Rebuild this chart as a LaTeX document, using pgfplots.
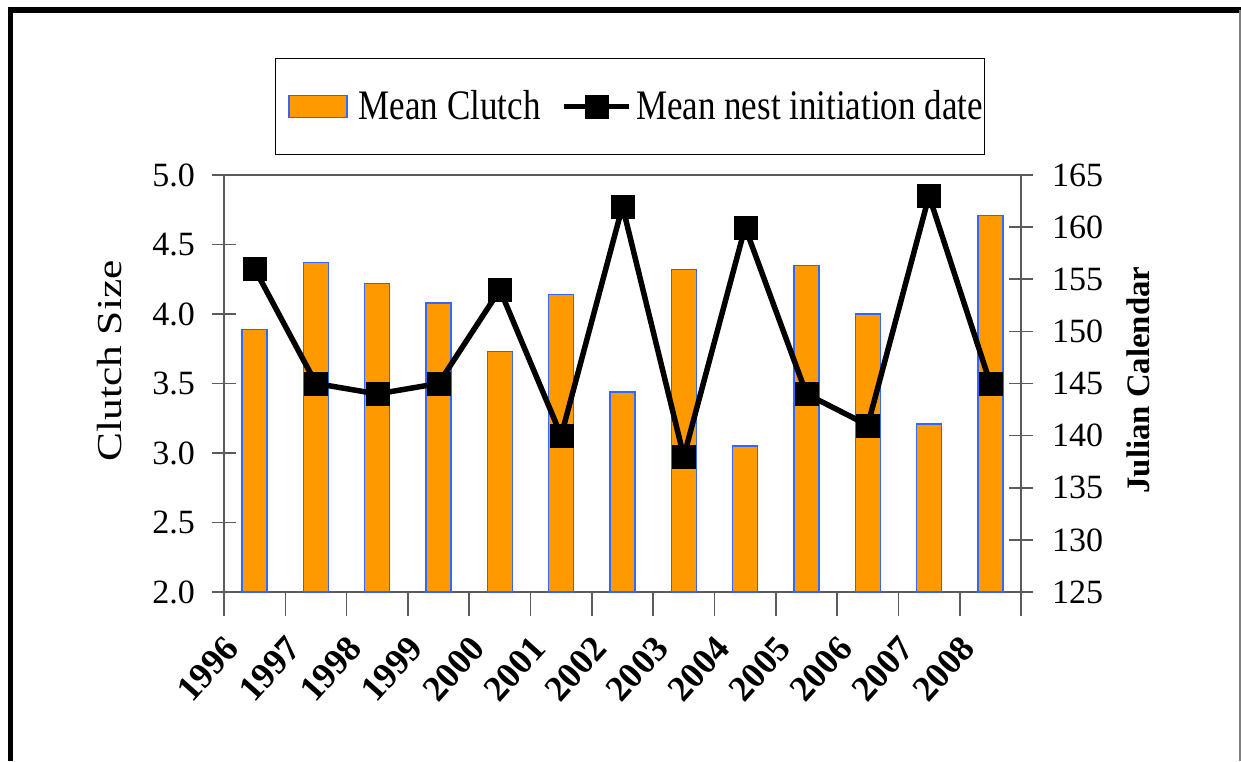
\documentclass[border=0pt]{standalone}
\usepackage{pgfplots}
\pgfplotsset{compat=1.18}
\usepackage{pgfplotstable}
\usepackage{fontspec}
\setmainfont{Liberation Serif}
\usepackage{graphicx}
\definecolor{barfill}{HTML}{FF9900}
\definecolor{baredge}{HTML}{3366FF}
\definecolor{axgray}{HTML}{5A5A5A}

\pgfplotsset{
  barleg/.style={legend image code/.code={\path (0pt,0pt); \draw[##1] (6pt,-5.5pt) rectangle (35pt,5.5pt);}},
  lineleg/.style={legend image code/.code={\draw[##1, mark repeat=2, mark phase=2] plot coordinates {(0pt,0pt) (16.25pt,0pt) (32.5pt,0pt)};}},
}

\pgfplotstableread{
x clutch date
0 3.89 156
1 4.37 145
2 4.22 144
3 4.08 145
4 3.73 154
5 4.14 140
6 3.44 162
7 4.32 138
8 3.05 160
9 4.35 144
10 4.00 141
11 3.21 163
12 4.71 145
}\datatable

\begin{document}
\begin{tikzpicture}
\useasboundingbox (0,0) rectangle (620.5pt,380.5pt);
% outer frame (open at bottom)
\draw[line width=2.6pt] (5.25pt,0pt) -- (5.25pt,375.5pt) -- (620.5pt,375.5pt);
\draw[gray, line width=0.8pt] (620.1pt,375.5pt) -- (620.1pt,0pt);

\begin{axis}[
  at={(112pt,84.5pt)}, anchor=south west,
  scale only axis, width=398.5pt, height=208.5pt,
  xmin=-0.5, xmax=12.5, ymin=2, ymax=5,
  axis line style={draw=axgray, line width=0.9pt},
  xtick={-0.5,0.5,...,12.5}, xticklabel=\empty,
  xtick pos=bottom, ytick pos=left,
  ytick={2,2.5,...,5},
  tick align=center, major tick length=12pt,
  every tick/.style={draw=axgray, line width=0.8pt},
  /pgf/number format/fixed, /pgf/number format/fixed zerofill, /pgf/number format/precision=1,
  /pgf/number format/assume math mode=true,
  yticklabel style={font=\fontsize{17}{20}\selectfont, xshift=-5pt},
  extra x ticks={0,...,12},
  extra x tick labels={1996,1997,1998,1999,2000,2001,2002,2003,2004,2005,2006,2007,2008},
  extra x tick style={major tick length=0pt, tick label style={font=\bfseries\fontsize{18}{20}\selectfont, xshift=-16pt, yshift=-16pt, rotate=48, anchor=north east}},
  ylabel={\scalebox{1.24}[1]{Clutch Size}},
  every axis y label/.style={at={(axis description cs:-0.143,0.554)}, rotate=90, anchor=center, font=\fontsize{17.5}{20}\selectfont},
  ybar, bar width=12.5pt, bar shift=0pt,
]
\addplot[fill=barfill, draw=baredge, line width=0.7pt] table[x=x, y=clutch] {\datatable};
\end{axis}

\begin{axis}[
  at={(112pt,84.5pt)}, anchor=south west,
  scale only axis, width=398.5pt, height=208.5pt,
  xmin=-0.5, xmax=12.5, ymin=125, ymax=165,
  axis x line=none, axis y line*=right,
  axis line style={draw=axgray, line width=0.9pt},
  ytick={125,130,...,165},
  tick align=center, major tick length=12pt,
  every tick/.style={draw=axgray, line width=0.8pt},
  /pgf/number format/assume math mode=true,
  yticklabel style={font=\fontsize{17}{20}\selectfont, xshift=6pt},
  ylabel={\textbf{Julian Calendar}},
  every axis y label/.style={at={(axis description cs:1.147,0.508)}, rotate=90, anchor=center, font=\fontsize{16.4}{19}\selectfont},
  legend columns=2,
  legend style={at={(0.509,1.164)}, anchor=center, draw=black, line width=0.5pt,
    inner xsep=0.5pt, inner ysep=14pt,
    font=\fontsize{17.5}{20}\selectfont,
    nodes={inner xsep=0pt},
    /tikz/column 1/.style={column sep=5.5pt},
    /tikz/column 2/.style={column sep=10.5pt},
    /tikz/column 3/.style={column sep=2pt}},
]
\addlegendimage{fill=barfill, draw=baredge, line width=0.7pt, barleg}
\addlegendentry{\scalebox{1}[1.2]{Mean Clutch}}
\addplot[black, line width=2.75pt, mark=square*, mark size=5.75pt,
  mark options={solid, line width=0.1pt}, lineleg]
  table[x=x, y=date] {\datatable};
\addlegendentry{\scalebox{1}[1.2]{Mean nest initiation date}}
\end{axis}
\end{tikzpicture}
\end{document}
